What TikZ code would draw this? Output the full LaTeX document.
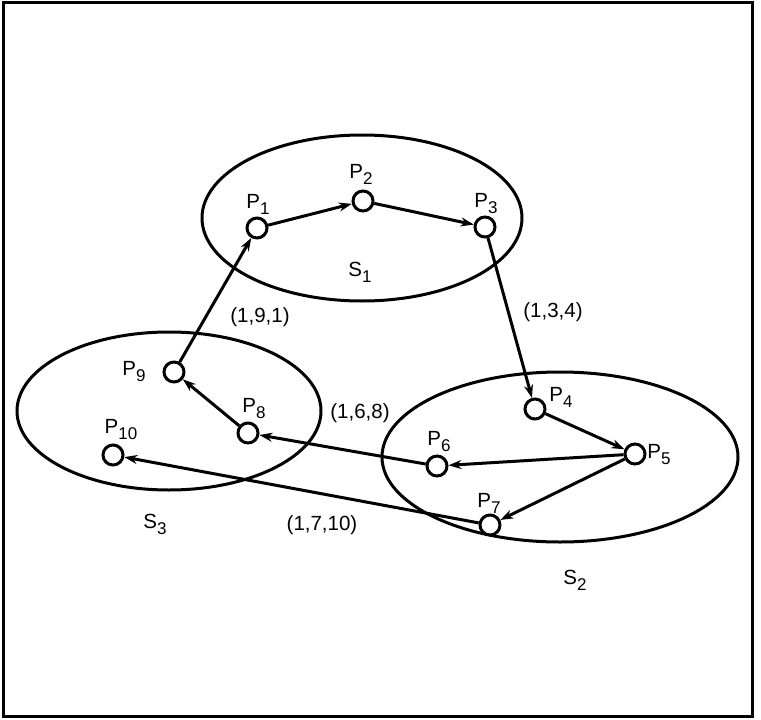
\documentclass[tikz,border=0pt]{standalone}
\usepackage{fontspec}
\setmainfont{Liberation Sans}
\usetikzlibrary{arrows.meta,shapes.geometric}
\newcommand{\ix}[2]{#1\raisebox{-6pt}{\fontsize{17}{17}\selectfont #2}}

\begin{document}
\begin{tikzpicture}[x=1pt,y=-1pt,line width=3pt]
    %
    % `proc' is a process (small circle), `site' the ellipse round a site.
    % `msg' is used for the arrows, `txt' for all the labels.
    \tikzstyle{proc} = [draw,fill=white,shape=circle,minimum size=20pt,inner sep=0pt]
    \tikzstyle{site} = [draw,shape=ellipse,inner sep=0pt]
    \tikzstyle{txt} = [inner sep=0pt,font=\fontsize{20.5}{24}\selectfont]
    \tikzstyle{msg} = [-{Stealth[length=13pt,width=9pt]}]
    %
    \useasboundingbox (0,0) rectangle (761,720);
    \draw (3,2) rectangle (752,716);
    %
    % Sites
    \node[site,minimum width=320pt,minimum height=166pt] (s1) at (362,218) {};
    \node[site,minimum width=356pt,minimum height=170pt] (s2) at (560,457) {};
    \node[site,minimum width=304pt,minimum height=158pt] (s3) at (169,411) {};
    \node[txt,anchor=base] (ls1) at (360,276) {\ix{S}{1}};
    \node[txt,anchor=base] (ls2) at (575,584) {\ix{S}{2}};
    \node[txt,anchor=base] (ls3) at (155,528) {\ix{S}{3}};
    %
    % Processes
    \node[proc] (p1) at (257,228) {};
    \node[proc] (p2) at (363,201) {};
    \node[proc] (p3) at (485,227) {};
    \node[proc] (p4) at (535,409) {};
    \node[proc] (p5) at (635,454) {};
    \node[proc] (p6) at (437,466) {};
    \node[proc] (p7) at (490,525) {};
    \node[proc] (p8) at (248,433) {};
    \node[proc] (p9) at (174,372) {};
    \node[proc] (p10) at (113,455) {};
    %
    % Process labels
    \node[txt,anchor=base] (lp1) at (258,208) {\ix{P}{1}};
    \node[txt,anchor=base] (lp2) at (361,178) {\ix{P}{2}};
    \node[txt,anchor=base] (lp3) at (486,207) {\ix{P}{3}};
    \node[txt,anchor=base] (lp4) at (561,401) {\ix{P}{4}};
    \node[txt,anchor=base] (lp5) at (659,458) {\ix{P}{5}};
    \node[txt,anchor=base] (lp6) at (439,445) {\ix{P}{6}};
    \node[txt,anchor=base] (lp7) at (489,507) {\ix{P}{7}};
    \node[txt,anchor=base] (lp8) at (254,412) {\ix{P}{8}};
    \node[txt,anchor=base] (lp9) at (134,375) {\ix{P}{9}};
    \node[txt,anchor=base] (lp10) at (121,433) {\ix{P}{10}};
    %
    % Messages
    \draw[msg] (p1) -- (p2);
    \draw[msg] (p2) -- (p3);
    \draw[msg] (p3) -- (p4);
    \draw[msg] (p4) -- (p5);
    \draw[msg] (p5) -- (p6);
    \draw[msg] (p5) -- (p7);
    \draw[msg] (p6) -- (p8);
    \draw[msg] (p7) -- (p10);
    \draw[msg] (p8) -- (p9);
    \draw[msg] (p9) -- (p1);
    %
    % Message labels
    \node[txt] (m91) at (260,317) {(1,9,1)};
    \node[txt] (m34) at (553,312) {(1,3,4)};
    \node[txt] (m68) at (360,413) {(1,6,8)};
    \node[txt] (m710) at (322,525) {(1,7,10)};
    %
\end{tikzpicture}
\end{document}
